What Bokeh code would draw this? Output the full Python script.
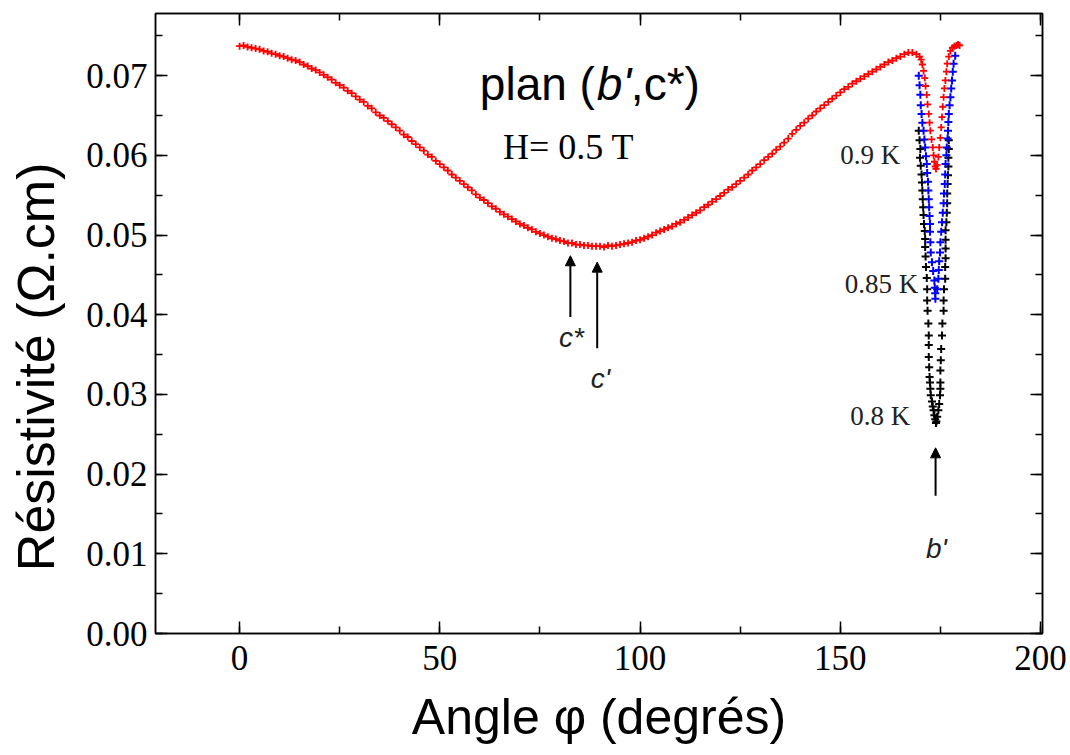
from bokeh.plotting import figure
from bokeh.models import (Range1d, LinearAxis, SingleIntervalTicker, NumeralTickFormatter,
                          Arrow, NormalHead, CustomJSTickFormatter)
from bokeh.core.properties import value
from bokeh.embed import file_html
from bokeh.resources import INLINE

# ---------------- data ----------------
# 0.9 K : full rotation (red)
red_angle = [0, 1, 2, 3, 4, 5, 6, 7, 8, 9, 10, 11, 12, 13, 14, 15, 16, 17, 18, 19,
             20, 21, 22, 23, 24, 25, 26, 27, 28, 29, 30, 31, 32, 33, 34, 35, 36, 37, 38, 39,
             40, 41, 42, 43, 44, 45, 46, 47, 48, 49, 50, 51, 52, 53, 54, 55, 56, 57, 58, 59,
             60, 61, 62, 63, 64, 65, 66, 67, 68, 69, 70, 71, 72, 73, 74, 75, 76, 77, 78, 79,
             80, 81, 82, 83, 84, 85, 86, 87, 88, 89, 90, 91, 92, 93, 94, 95, 96, 97, 98, 99,
             100, 101, 102, 103, 104, 105, 106, 107, 108, 109, 110, 111, 112, 113, 114, 115, 116, 117, 118, 119,
             120, 121, 122, 123, 124, 125, 126, 127, 128, 129, 130, 131, 132, 133, 134, 135, 136, 137, 138, 139,
             140, 141, 142, 143, 144, 145, 146, 147, 148, 149, 150, 151, 152, 153, 154, 155, 156, 157, 158, 159,
             160, 161, 162, 163, 164, 165, 166, 167, 168, 169,
             169.8, 170.2, 170.5, 170.8, 171.1, 171.3, 171.6, 171.8, 172.1, 172.3,
             172.5, 172.8, 173.1, 173.3, 173.5, 173.7, 173.9, 174.2, 174.5, 174.7,
             175.0, 175.2, 175.4, 175.6, 175.8, 176.0, 176.25, 176.5, 176.7, 177.1,
             177.5, 178.0, 178.5, 179.0, 179.4, 179.8]
red_rho = [0.0737, 0.0738, 0.0736, 0.0735, 0.0734, 0.0733, 0.0731, 0.0730, 0.0728, 0.0727,
           0.0725, 0.0724, 0.0722, 0.0720, 0.0719, 0.0717, 0.0714, 0.0712, 0.0709, 0.0707,
           0.0704, 0.0701, 0.0698, 0.0695, 0.0691, 0.0688, 0.0685, 0.0681, 0.0678, 0.0674,
           0.0670, 0.0667, 0.0662, 0.0659, 0.0654, 0.0650, 0.0647, 0.0643, 0.0639, 0.0635,
           0.0631, 0.0626, 0.0623, 0.0618, 0.0614, 0.0610, 0.0606, 0.0601, 0.0598, 0.0593,
           0.0589, 0.0585, 0.0581, 0.0576, 0.0572, 0.0568, 0.0564, 0.0560, 0.0556, 0.0551,
           0.0547, 0.0544, 0.0540, 0.0536, 0.0533, 0.0529, 0.0526, 0.0523, 0.0520, 0.0517,
           0.0514, 0.0512, 0.0509, 0.0507, 0.0504, 0.0502, 0.0500, 0.0498, 0.0496, 0.0495,
           0.0493, 0.0492, 0.0490, 0.0490, 0.0488, 0.0488, 0.0487, 0.0487, 0.0486, 0.0486,
           0.0486, 0.0485, 0.0487, 0.0486, 0.0487, 0.0488, 0.0489, 0.0490, 0.0491, 0.0493,
           0.0494, 0.0496, 0.0498, 0.0500, 0.0503, 0.0505, 0.0507, 0.0509, 0.0511, 0.0514,
           0.0516, 0.0519, 0.0522, 0.0525, 0.0528, 0.0531, 0.0535, 0.0538, 0.0542, 0.0545,
           0.0549, 0.0553, 0.0557, 0.0560, 0.0564, 0.0568, 0.0572, 0.0576, 0.0581, 0.0585,
           0.0589, 0.0594, 0.0598, 0.0602, 0.0607, 0.0611, 0.0616, 0.0621, 0.0627, 0.0632,
           0.0637, 0.0641, 0.0646, 0.0650, 0.0655, 0.0659, 0.0663, 0.0667, 0.0671, 0.0675,
           0.0679, 0.0683, 0.0686, 0.0690, 0.0693, 0.0696, 0.0699, 0.0702, 0.0705, 0.0708,
           0.0711, 0.0714, 0.0717, 0.0719, 0.0722, 0.0724, 0.0727, 0.0729, 0.0729, 0.0727,
           0.0724, 0.0720, 0.0714, 0.0706, 0.0697, 0.0687, 0.0676, 0.0664, 0.0652, 0.0641,
           0.0631, 0.0620, 0.0610, 0.0600, 0.0592, 0.0586, 0.0583, 0.0588, 0.0598, 0.0610,
           0.0622, 0.0635, 0.0648, 0.0661, 0.0673, 0.0684, 0.0694, 0.0705, 0.0715, 0.0724,
           0.0731, 0.0735, 0.0737, 0.0738, 0.0739, 0.0738]

# 0.85 K (blue)
blue_angle = [169.6, 169.8, 170.0, 170.1, 170.3, 170.5, 170.8, 171.0, 171.2, 171.4,
              171.6, 171.7, 171.9, 172.0, 172.1, 172.2, 172.3, 172.4, 172.4, 172.5,
              172.6, 172.9, 173.2, 173.5, 173.6, 173.7, 173.75,
              174.2, 174.5, 174.6, 174.7, 174.9, 175.0, 175.2, 175.4, 175.6, 175.8,
              175.9, 176.1, 176.2, 176.3, 176.5, 176.6, 176.8, 176.9, 177.0, 177.1,
              177.3, 177.5, 177.7, 177.9, 178.1, 178.3, 178.7]
blue_rho = [0.0700, 0.0688, 0.0676, 0.0663, 0.0652, 0.0641, 0.0631, 0.0620, 0.0610, 0.0599,
            0.0589, 0.0578, 0.0567, 0.0556, 0.0545, 0.0535, 0.0524, 0.0514, 0.0504, 0.0491,
            0.0478, 0.0466, 0.0455, 0.0443, 0.0434, 0.0427, 0.0420,
            0.0432, 0.0445, 0.0456, 0.0467, 0.0478, 0.0491, 0.0504, 0.0516, 0.0528, 0.0540,
            0.0552, 0.0564, 0.0576, 0.0589, 0.0600, 0.0610, 0.0621, 0.0631, 0.0642, 0.0652,
            0.0663, 0.0673, 0.0684, 0.0694, 0.0705, 0.0715, 0.0725]

# 0.8 K (black)
black_angle = [169.6, 169.8, 170.0, 169.9, 170.1, 170.3, 170.4, 170.5, 170.6, 170.7,
               170.8, 170.9, 171.1, 171.2, 171.2, 171.3, 171.4, 171.6, 171.7, 171.7,
               171.8, 172.0, 172.1, 172.1, 172.1, 172.2, 172.3, 172.4, 172.5, 172.6,
               172.9, 173.1, 173.3, 173.5, 173.7, 173.9, 174.0,
               174.2, 174.5, 174.7, 174.9, 175.0, 175.0, 175.0, 175.1, 175.2, 175.4,
               175.5, 175.8, 175.8, 175.9, 176.2, 176.2, 176.3, 176.3, 176.3, 176.3,
               176.5, 176.6, 176.7, 176.7, 176.8, 176.9, 177.0, 177.0, 177.1, 177.1]
black_rho = [0.0631, 0.0619, 0.0608, 0.0597, 0.0587, 0.0576, 0.0566, 0.0556, 0.0545, 0.0535,
             0.0525, 0.0514, 0.0505, 0.0495, 0.0485, 0.0473, 0.0460, 0.0446, 0.0432, 0.0418,
             0.0405, 0.0389, 0.0374, 0.0362, 0.0347, 0.0334, 0.0322, 0.0315, 0.0307, 0.0299,
             0.0291, 0.0285, 0.0280, 0.0274, 0.0269, 0.0264, 0.0266,
             0.0272, 0.0280, 0.0288, 0.0299, 0.0307, 0.0315, 0.0330, 0.0343, 0.0357, 0.0374,
             0.0389, 0.0405, 0.0418, 0.0432, 0.0445, 0.0460, 0.0471, 0.0483, 0.0494, 0.0506,
             0.0516, 0.0528, 0.0540, 0.0552, 0.0564, 0.0575, 0.0586, 0.0597, 0.0608, 0.0619]

x_ticks_interval = 50
y_ticks_interval = 0.01

# ---------------- figure ----------------
p = figure(frame_width=887, frame_height=620,
           x_range=Range1d(-21, 200.5), y_range=Range1d(0, 0.0778),
           output_backend="svg", toolbar_location=None,
           min_border_left=155, min_border_right=28, min_border_top=13, min_border_bottom=122,
           background_fill_color="white", border_fill_color="white")
p.grid.visible = False
p.outline_line_color = "black"
p.outline_line_width = 1.5

TICK_FONT = "Liberation Serif"
TITLE_FONT = "Liberation Sans"
blank = CustomJSTickFormatter(code="return '';")

def style_axis(ax, labels=True):
    ax.axis_line_color = "black"
    ax.axis_line_width = 1.5
    ax.major_tick_in = 12
    ax.major_tick_out = 0
    ax.minor_tick_in = 7
    ax.minor_tick_out = 0
    ax.major_tick_line_color = "black"
    ax.minor_tick_line_color = "black"
    ax.major_tick_line_width = 1.5
    ax.minor_tick_line_width = 1.5
    if labels:
        ax.major_label_text_font = TICK_FONT
        ax.major_label_text_font_size = "35px"
        ax.major_label_text_color = "black"
        ax.axis_label_text_font = TITLE_FONT
        ax.axis_label_text_font_size = "50px"
        ax.axis_label_text_font_style = "normal"
        ax.axis_label_text_color = "black"
    else:
        ax.formatter = blank
        ax.major_label_standoff = 0

xa = p.xaxis[0]
ya = p.yaxis[0]
xa.ticker = SingleIntervalTicker(interval=x_ticks_interval, num_minor_ticks=2)
ya.ticker = SingleIntervalTicker(interval=y_ticks_interval, num_minor_ticks=2)
ya.formatter = NumeralTickFormatter(format="0.00")
style_axis(xa)
style_axis(ya)
xa.axis_label = "Angle φ (degrés)"
# trailing no-break spaces shift the rotated title downwards, as in the reference
ya.axis_label = "Résistivité (Ω.cm)" + "\u00a0" * 6
ya.axis_label_text_font_size = "52px"
xa.major_label_standoff = 12
xa.axis_label_standoff = 16
ya.major_label_standoff = 8
ya.axis_label_standoff = 18

top = LinearAxis(ticker=SingleIntervalTicker(interval=x_ticks_interval, num_minor_ticks=2))
right = LinearAxis(ticker=SingleIntervalTicker(interval=y_ticks_interval, num_minor_ticks=2))
style_axis(top, labels=False)
style_axis(right, labels=False)
p.add_layout(top, "above")
p.add_layout(right, "right")

# data points
p.scatter(black_angle, black_rho, marker="cross", size=8, line_width=2, line_color="black")
p.scatter(blue_angle, blue_rho, marker="cross", size=8, line_width=2, line_color="#0000FF")
p.scatter(red_angle, red_rho, marker="cross", size=7, line_width=1.8, line_color="#FF0000")

# arrows
for xs, y0, y1 in [(82.6, 0.0397, 0.0474), (89.3, 0.0358, 0.0466), (173.8, 0.0173, 0.0233)]:
    p.add_layout(Arrow(end=NormalHead(size=10, fill_color="black", line_color="black", line_width=1),
                       x_start=xs, y_start=y0, x_end=xs, y_end=y1,
                       line_color="black", line_width=2))

# axis direction labels
p.text(x=[82.9, 90.1, 174.0], y=[0.0371, 0.0320, 0.0107], text=["c*", "c'", "b'"],
       text_font=value("Liberation Sans"), text_font_size=value("28px"),
       text_font_style="italic", text_color="#222222",
       text_align="center", text_baseline="middle")

# temperature labels
p.text(x=[165.0, 169.5, 167.5], y=[0.0601, 0.0439, 0.0273], text=["0.9 K", "0.85 K", "0.8 K"],
       text_font=value("Liberation Serif"), text_font_size=value("27px"),
       text_color="#222222", text_align="right", text_baseline="middle")

# title "plan (b',c*)"
TY = 0.0689
p.text(x=[60], y=[TY], text=["plan ("], text_font=value("Liberation Sans"),
       text_font_size=value("46px"), text_color="black",
       text_align="left", text_baseline="alphabetic")
p.text(x=[60], y=[TY], text=["b'"], x_offset=117, text_font=value("Liberation Sans"),
       text_font_size=value("46px"), text_font_style="italic", text_color="black",
       text_align="left", text_baseline="alphabetic")
p.text(x=[60], y=[TY], text=[",c*)"], x_offset=151, text_font=value("Liberation Sans"),
       text_font_size=value("46px"), text_color="black",
       text_align="left", text_baseline="alphabetic")

p.text(x=[65.75], y=[0.0610], text=["H= 0.5 T"], text_font=value("Liberation Serif"),
       text_font_size=value("36px"), text_color="black",
       text_align="left", text_baseline="alphabetic")

open("out.html", "w").write(file_html(p, INLINE))
